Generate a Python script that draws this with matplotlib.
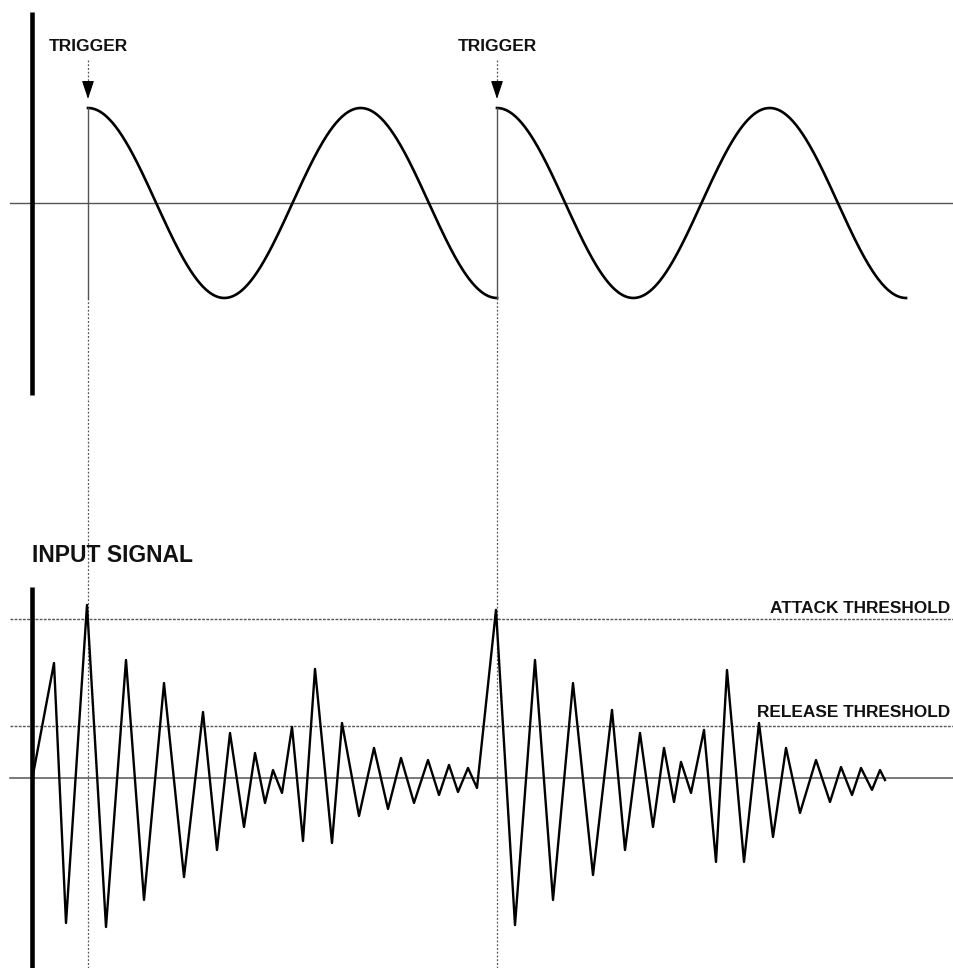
import matplotlib
matplotlib.use("Agg")
import matplotlib.pyplot as plt
import numpy as np

plt.rcParams['font.family'] = ['Liberation Sans', 'DejaVu Sans']

# trigger times (same time scale for both panels), sine period and amplitude
trigger_t = [88, 497]
period = 272.7
cycles_per_trigger = 1.5
amp = 1.0

# input signal vertices: time, level (attack threshold = 100)
sig_t = [33, 54, 66, 87, 106, 126, 144, 164, 184, 203, 217, 230, 244, 255, 265, 273,
         282, 292, 303, 315, 332, 342, 359, 374, 388, 401, 414, 428, 439, 449, 458, 468,
         477, 496, 515, 535, 553, 573, 593, 612, 625, 640, 653, 664, 674, 681, 691, 704,
         716, 727, 744, 759, 773, 786, 800, 816, 830, 841, 852, 861, 872, 880, 885]
sig_v = [2, 72.3, -91.2, 108.8, -93.7, 74.2, -76.7, 59.7, -62.3, 41.5, -45.3, 28.3, -30.8,
         15.7, -15.7, 5.0, -9.4, 32.1, -39.6, 68.6, -40.9, 34.6, -23.9, 18.9, -19.5, 12.6,
         -15.7, 11.3, -10.7, 8.2, -8.8, 6.3, -6.3, 105.7, -92.5, 74.2, -76.7, 59.7, -61.0,
         42.8, -45.3, 28.3, -30.8, 18.9, -15.1, 10.1, -9.4, 30.2, -52.8, 67.9, -52.8, 34.6,
         -37.1, 18.9, -22.0, 11.3, -15.1, 6.9, -10.7, 6.3, -7.5, 5.0, -1.3]
attack_level = 100
release_level = 33

labels_trigger = "TRIGGER"
label_input = "INPUT SIGNAL"
label_attack = "ATTACK THRESHOLD"
label_release = "RELEASE THRESHOLD"

W, H = 954, 968
fig = plt.figure(figsize=(W / 100, H / 100), dpi=100)

dark = "#111111"
grey = "#555555"

# ---- top panel: oscillator restarted by triggers
ax1 = fig.add_axes([0, 1 - 400 / H, 1, 400 / H])
ax1.set_xlim(0, W)
ax1.set_ylim(-2.074, 2.137)
ax1.axis('off')

ax1.plot([10, 952], [0, 0], color=grey, lw=1.0)
ax1.plot([32, 32], [2.01, -2.02], color='black', lw=3.3, solid_capstyle='butt')

for t0 in trigger_t:
    t = np.linspace(t0, t0 + cycles_per_trigger * period, 400)
    ax1.plot(t, amp * np.cos(2 * np.pi * (t - t0) / period), color='black', lw=1.9)
    ax1.plot([t0, t0], [amp, -amp], color=grey, lw=1.0)
    ax1.plot([t0, t0], [-amp, -2.1], color=grey, lw=0.9, linestyle=(0, (1.5, 1.5)))
    ax1.plot([t0, t0], [1.505, 1.25], color=grey, lw=0.9, linestyle=(0, (1.5, 1.5)))
    ax1.annotate('', xy=(t0, 1.095), xytext=(t0, 1.27),
                 arrowprops=dict(arrowstyle='-|>,head_length=0.75,head_width=0.25',
                                 mutation_scale=15, color='black', lw=0.8,
                                 shrinkA=0, shrinkB=0))
    ax1.text(t0, (203 - 50.5) / 95, labels_trigger, ha='center', va='baseline',
             fontsize=12.5, fontweight='bold', color=dark)

# ---- bottom panel: input signal and thresholds
ax2 = fig.add_axes([0, 0, 1, 568 / H])
ax2.set_xlim(0, W)
ax2.set_ylim(-119.5, 237.7)
ax2.axis('off')

for lev in [attack_level, release_level]:
    ax2.plot([10, W], [lev, lev], color=grey, lw=1.0, linestyle=(0, (2, 1)))
ax2.plot([10, W], [0, 0], color=grey, lw=1.1)
for t0 in trigger_t:
    ax2.plot([t0, t0], [237.7, -119.5], color=grey, lw=0.9, linestyle=(0, (1.5, 1.5)))

ax2.plot([32, 32], [120.1, -119.5], color='black', lw=3.3, solid_capstyle='butt')
ax2.plot(sig_t, sig_v, color='black', lw=1.7)

ax2.text(32, (778 - 562) / 1.59, label_input, ha='left', va='baseline',
         fontsize=16.5, fontweight='bold', color=dark)
ax2.text(950, (778 - 613) / 1.59, label_attack, ha='right', va='baseline',
         fontsize=12.4, fontweight='bold', color=dark)
ax2.text(950, (778 - 717) / 1.59, label_release, ha='right', va='baseline',
         fontsize=12.4, fontweight='bold', color=dark)

fig.savefig("out.png", dpi=100, facecolor='white')
